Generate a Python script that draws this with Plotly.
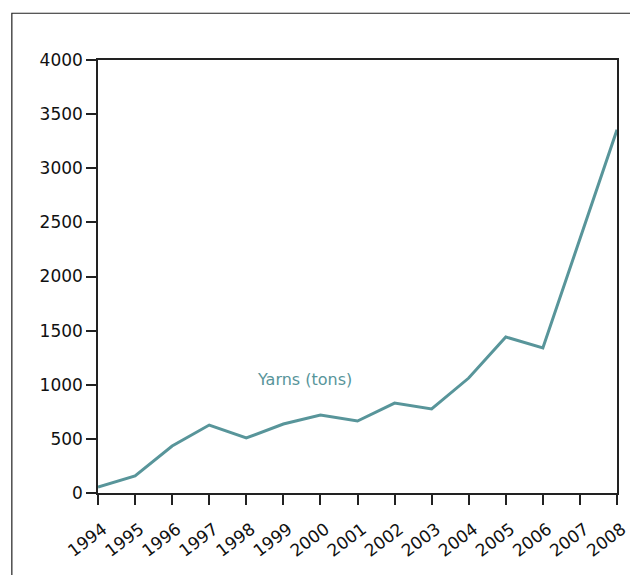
import plotly.graph_objects as go

years = list(range(1994, 2009))
yarns_tons = [55, 157, 434, 628, 508, 637, 720, 665, 831, 776, 1062, 1441, 1340, 2350, 3355]
y_ticks = [0, 500, 1000, 1500, 2000, 2500, 3000, 3500, 4000]
series_label = "Yarns (tons)"

line_color = "#58959a"
font_family = "'DejaVu Sans', sans-serif"

fig = go.Figure()
fig.add_trace(go.Scatter(
    x=years, y=yarns_tons, mode="lines",
    line=dict(color=line_color, width=3),
    showlegend=False, hoverinfo="x+y",
))

fig.add_annotation(
    x=1999.58, y=1044, text=series_label, showarrow=False,
    font=dict(family=font_family, size=16, color=line_color),
)

fig.add_shape(
    type="rect", xref="paper", yref="paper",
    x0=-0.166, x1=1.3, y0=-0.4, y1=1.108,
    line=dict(color="#222222", width=1.2), fillcolor="rgba(0,0,0,0)",
    layer="below",
)

fig.update_layout(
    width=622, height=567,
    margin=dict(l=90, r=13, t=52, b=82, autoexpand=False),
    paper_bgcolor="white", plot_bgcolor="white",
    font=dict(family=font_family, size=17, color="#111111"),
)
fig.update_xaxes(
    range=[1994, 2008], tickmode="array", tickvals=years,
    ticktext=[str(y) for y in years], tickangle=-37,
    ticklabelstandoff=8, ticklabelshift=5, automargin=False,
    showgrid=False, zeroline=False,
    showline=True, linecolor="#222222", linewidth=1.5, mirror=True,
    ticks="outside", ticklen=10, tickcolor="#222222", tickwidth=1.5,
    tickfont=dict(size=17),
)
fig.update_yaxes(
    range=[0, 4000], tickmode="array", tickvals=y_ticks, automargin=False,
    showgrid=False, zeroline=False,
    showline=True, linecolor="#222222", linewidth=1.5, mirror=True,
    ticks="outside", ticklen=10, tickcolor="#222222", tickwidth=1.5,
    tickfont=dict(size=17),
)

fig.write_html("out.html")
